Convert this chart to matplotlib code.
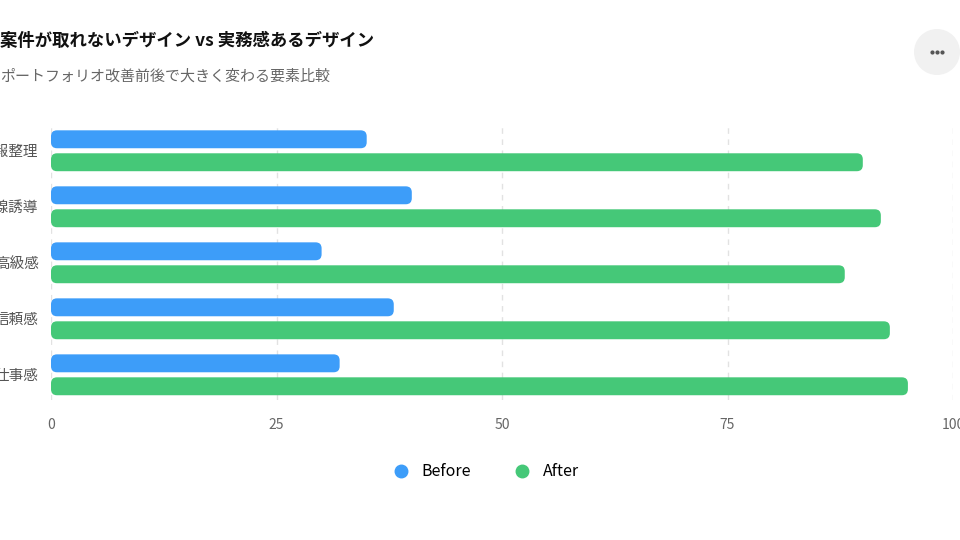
import matplotlib.pyplot as plt
from matplotlib.patches import FancyBboxPatch, Ellipse
import numpy as np

plt.rcParams['font.family'] = ['Noto Sans CJK JP', 'DejaVu Sans']

categories = ["情報整理", "視線誘導", "高級感", "信頼感", "仕事感"]
before = [35, 40, 30, 38, 32]
after = [90, 92, 88, 93, 95]
series_names = ["Before", "After"]
colors = ["#3d9df9", "#45c878"]

fig = plt.figure(figsize=(9.6, 5.4), dpi=100)
ax = fig.add_axes([51 / 960, 1 - 400 / 540, 902 / 960, 275 / 540])

y = np.arange(len(categories))
h = 0.32
off = 0.205
ax.set_xlim(0, 100)
ax.set_ylim(4.45, -0.46)

# data units per pixel, for rounded corners
px_x = 100 / 902
px_y = 4.91 / 275
r = 6 * px_x
for vals, dy, c in [(before, -off, colors[0]), (after, off, colors[1])]:
    bars = ax.barh(y + dy, vals, height=h, color="none")
    for b in bars:
        p = FancyBboxPatch((b.get_x(), b.get_y()), b.get_width(), b.get_height(),
                           boxstyle=f"round,pad=0,rounding_size={r}",
                           mutation_aspect=px_y / px_x, fc=c, ec="none", zorder=3)
        ax.add_patch(p)

ax.set_yticks(y)
ax.set_yticklabels(categories, fontsize=10.5, color="#555555")
ax.set_xticks([0, 25, 50, 75, 100])
ax.tick_params(axis="x", labelsize=10, labelcolor="#666666", length=0, pad=13)
ax.tick_params(axis="y", length=0, pad=9)
ax.grid(axis="x", ls=(0, (4, 4)), color="#e2e2e2", lw=1)
ax.set_axisbelow(True)
for s in ax.spines.values():
    s.set_visible(False)

fig.text(0, 1 - 41 / 540, "案件が取れないデザイン vs 実務感あるデザイン", fontsize=12.5,
         fontweight="bold", color="#111111", va="center", ha="left")
fig.text(0, 1 - 77 / 540, "ポートフォリオ改善前後で大きく変わる要素比較", fontsize=10.8,
         color="#666666", va="center", ha="left")

# menu button
fig.patches.append(Ellipse((937 / 960, 1 - 52 / 540), 46 / 960, 46 / 540,
                           transform=fig.transFigure, fc="#f1f1f1", ec="none"))
for dx in (-5, 0, 5):
    fig.add_artist(plt.Line2D([(937 + dx) / 960], [1 - 52 / 540], marker="o", ms=2,
                              color="#555555", transform=fig.transFigure))

# legend
handles = [plt.Line2D([], [], marker="o", ls="", ms=9, color=c) for c in colors]
fig.legend(handles, series_names, loc="center", bbox_to_anchor=(482 / 960, 1 - 472 / 540),
           ncol=2, frameon=False, fontsize=11.5, handletextpad=0.3, columnspacing=2.2)

fig.savefig("out.png", dpi=100, facecolor="white")
